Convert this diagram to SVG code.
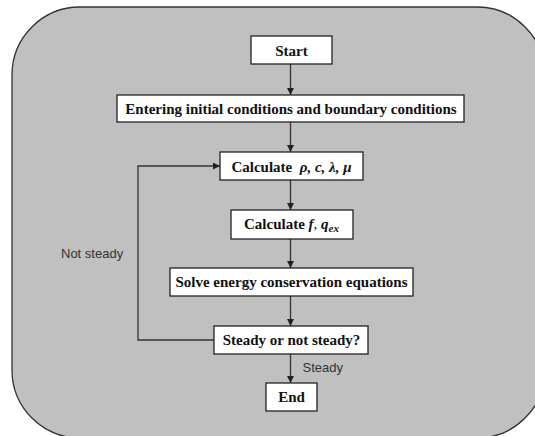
<svg xmlns="http://www.w3.org/2000/svg" width="535" height="436" viewBox="0 0 535 436">
<defs>
<marker id="ah" viewBox="0 0 10 10" refX="10" refY="5" markerWidth="7" markerHeight="7" markerUnits="userSpaceOnUse" orient="auto">
<path d="M0,0 L10,5 L0,10 z" fill="#222"/>
</marker>
<style>
.bg{fill:#c0c0c0;stroke:#333;stroke-width:1.3}
.box{fill:#fff;stroke:#222;stroke-width:1.3}
.t{font-family:"Liberation Serif","Times New Roman",serif;font-weight:bold;font-size:15px;fill:#111;text-anchor:middle}
.m{font-style:italic}
.lbl{font-family:"Liberation Sans",Arial,sans-serif;font-size:13px;fill:#333}
.c{fill:none;stroke:#333;stroke-width:1.3;marker-end:url(#ah)}
</style>
</defs>
<rect class="bg" x="12" y="7" width="533" height="431" rx="68" ry="68"/>
<g id="connectors">
<line class="c" x1="290.5" y1="64" x2="290.5" y2="95"/>
<line class="c" x1="290.5" y1="122" x2="290.5" y2="152"/>
<line class="c" x1="290.5" y1="180" x2="290.5" y2="210"/>
<line class="c" x1="290.5" y1="239" x2="290.5" y2="268"/>
<line class="c" x1="290.5" y1="296" x2="290.5" y2="326"/>
<line class="c" x1="290.5" y1="354" x2="290.5" y2="383"/>
<polyline class="c" points="214,340 138,340 138,166 220,166"/>
<text class="lbl" x="61" y="258">Not steady</text>
<text class="lbl" x="302.5" y="372">Steady</text>
</g>
<g id="start">
<rect class="box" x="251" y="36" width="81" height="28"/>
<text class="t" x="291.5" y="55.5">Start</text>
</g>
<g id="entering">
<rect class="box" x="117" y="95" width="347" height="27"/>
<text class="t" x="291" y="114">Entering initial conditions and boundary conditions</text>
</g>
<g id="calc1">
<rect class="box" x="220" y="152" width="143" height="28"/>
<text class="t" x="291.5" y="171.5" xml:space="preserve">Calculate  <tspan class="m">ρ, c, λ, μ</tspan></text>
</g>
<g id="calc2">
<rect class="box" x="231" y="210" width="122" height="29"/>
<text class="t" x="291.5" y="228.5">Calculate <tspan class="m">f</tspan><tspan font-weight="normal">, </tspan><tspan class="m">q</tspan><tspan class="m" font-size="11" dy="3">ex</tspan></text>
</g>
<g id="solve">
<rect class="box" x="170" y="268" width="243" height="28"/>
<text class="t" x="291.5" y="287">Solve energy conservation equations</text>
</g>
<g id="steady">
<rect class="box" x="214" y="326" width="154" height="28"/>
<text class="t" x="291.5" y="345">Steady or not steady?</text>
</g>
<g id="end">
<rect class="box" x="266" y="383" width="51" height="28"/>
<text class="t" x="291.5" y="402">End</text>
</g>
</svg>
